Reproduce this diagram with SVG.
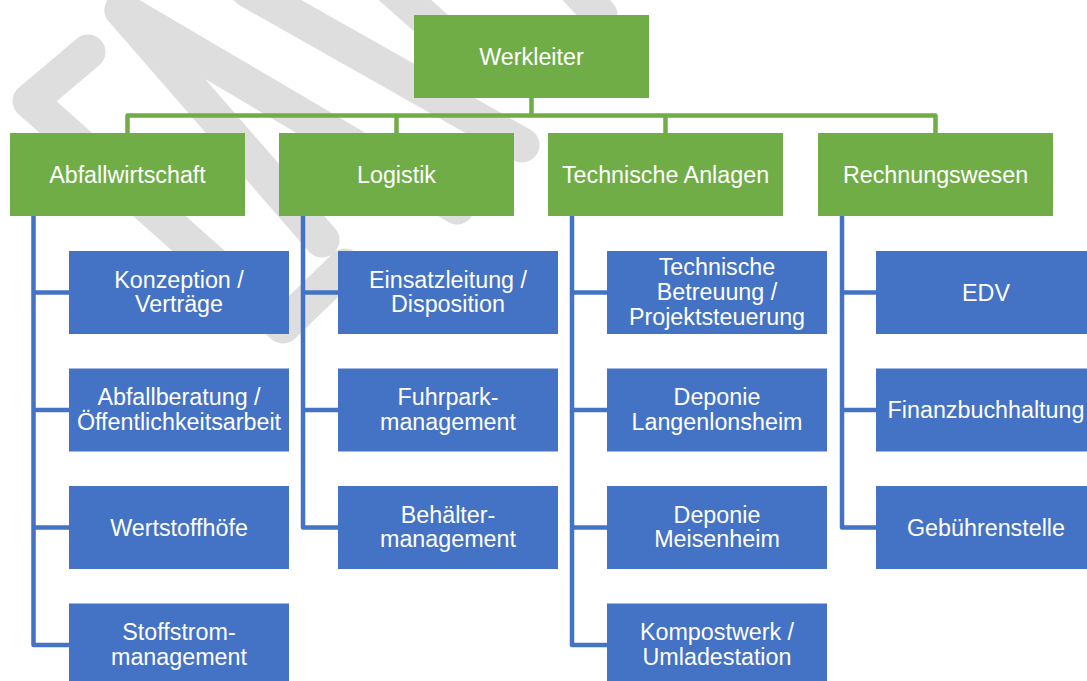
<svg xmlns="http://www.w3.org/2000/svg" width="1087" height="681" viewBox="0 0 1087 681">
<style>
.wm{fill:none;stroke:#dedede;stroke-width:35;stroke-linecap:round;stroke-linejoin:round}
.g{fill:#70ad47}
.b{fill:#4472c4}
.t{fill:#ffffff;font-family:"Liberation Sans",Arial,sans-serif;font-size:23.3px;text-anchor:middle}
.cg{fill:none;stroke:#70ad47;stroke-width:4.5;stroke-linejoin:round}
.cb{fill:none;stroke:#4472c4;stroke-width:4.5;stroke-linejoin:round}
</style>
<rect width="1087" height="681" fill="#ffffff"/>
<g id="watermark">
<path class="wm" d="M88,52 L30,101 L283,326 L345,266"/>
<path class="wm" d="M122,10 L322,240"/>
<path class="wm" d="M122,10 L457,207"/>
<path class="wm" d="M248,-10 L522,145"/>
<path class="wm" d="M388,-15 L450,40"/>
<path class="wm" d="M568,-20 L600,15"/>
</g>
<g id="connectors">
<path class="cg" d="M531.5,98 V115.5"/>
<path class="cg" d="M127.5,133 V115.5 H935.5 V133"/>
<path class="cg" d="M396.5,115.5 V133"/>
<path class="cg" d="M665.5,115.5 V133"/>
<path class="cb" d="M33.5,216 V645 H69"/>
<path class="cb" d="M33.5,292.5 H69"/>
<path class="cb" d="M33.5,410 H69"/>
<path class="cb" d="M33.5,527.5 H69"/>
<path class="cb" d="M303,216 V527.5 H338"/>
<path class="cb" d="M303,292.5 H338"/>
<path class="cb" d="M303,410 H338"/>
<path class="cb" d="M572,216 V645 H607"/>
<path class="cb" d="M572,292.5 H607"/>
<path class="cb" d="M572,410 H607"/>
<path class="cb" d="M572,527.5 H607"/>
<path class="cb" d="M842,216 V527.5 H876"/>
<path class="cb" d="M842,292.5 H876"/>
<path class="cb" d="M842,410 H876"/>
</g>
<g id="werkleiter"><rect class="g" x="414" y="15" width="235" height="83"/><text class="t" x="531.5" y="64.5">Werkleiter</text></g>
<g id="abfallwirtschaft"><rect class="g" x="10" y="133" width="235" height="83"/><text class="t" x="127.5" y="182.5">Abfallwirtschaft</text></g>
<g id="logistik"><rect class="g" x="279" y="133" width="235" height="83"/><text class="t" x="396.5" y="182.5">Logistik</text></g>
<g id="technische-anlagen"><rect class="g" x="548" y="133" width="235" height="83"/><text class="t" x="665.5" y="182.5">Technische Anlagen</text></g>
<g id="rechnungswesen"><rect class="g" x="818" y="133" width="235" height="83"/><text class="t" x="935.5" y="182.5">Rechnungswesen</text></g>

<g id="konzeption"><rect class="b" x="69" y="251" width="220" height="83"/><text class="t" x="179" y="287.5">Konzeption /</text><text class="t" x="179" y="312">Verträge</text></g>
<g id="abfallberatung"><rect class="b" x="69" y="368.5" width="220" height="83"/><text class="t" x="179" y="405">Abfallberatung /</text><text class="t" x="179" y="429.5">Öffentlichkeitsarbeit</text></g>
<g id="wertstoffhoefe"><rect class="b" x="69" y="486" width="220" height="83"/><text class="t" x="179" y="535.5">Wertstoffhöfe</text></g>
<g id="stoffstrom"><rect class="b" x="69" y="603.5" width="220" height="83"/><text class="t" x="179" y="640">Stoffstrom-</text><text class="t" x="179" y="664.5">management</text></g>

<g id="einsatzleitung"><rect class="b" x="338" y="251" width="220" height="83"/><text class="t" x="448" y="287.5">Einsatzleitung /</text><text class="t" x="448" y="312">Disposition</text></g>
<g id="fuhrpark"><rect class="b" x="338" y="368.5" width="220" height="83"/><text class="t" x="448" y="405">Fuhrpark-</text><text class="t" x="448" y="429.5">management</text></g>
<g id="behaelter"><rect class="b" x="338" y="486" width="220" height="83"/><text class="t" x="448" y="522.5">Behälter-</text><text class="t" x="448" y="547">management</text></g>

<g id="technische-betreuung"><rect class="b" x="607" y="251" width="220" height="83"/><text class="t" x="717" y="275">Technische</text><text class="t" x="717" y="300">Betreuung /</text><text class="t" x="717" y="325">Projektsteuerung</text></g>
<g id="deponie-langenlonsheim"><rect class="b" x="607" y="368.5" width="220" height="83"/><text class="t" x="717" y="405">Deponie</text><text class="t" x="717" y="429.5">Langenlonsheim</text></g>
<g id="deponie-meisenheim"><rect class="b" x="607" y="486" width="220" height="83"/><text class="t" x="717" y="522.5">Deponie</text><text class="t" x="717" y="547">Meisenheim</text></g>
<g id="kompostwerk"><rect class="b" x="607" y="603.5" width="220" height="83"/><text class="t" x="717" y="640">Kompostwerk /</text><text class="t" x="717" y="664.5">Umladestation</text></g>

<g id="edv"><rect class="b" x="876" y="251" width="220" height="83"/><text class="t" x="986" y="300.5">EDV</text></g>
<g id="finanzbuchhaltung"><rect class="b" x="876" y="368.5" width="220" height="83"/><text class="t" x="986" y="418">Finanzbuchhaltung</text></g>
<g id="gebuehrenstelle"><rect class="b" x="876" y="486" width="220" height="83"/><text class="t" x="986" y="535.5">Gebührenstelle</text></g>
</svg>
